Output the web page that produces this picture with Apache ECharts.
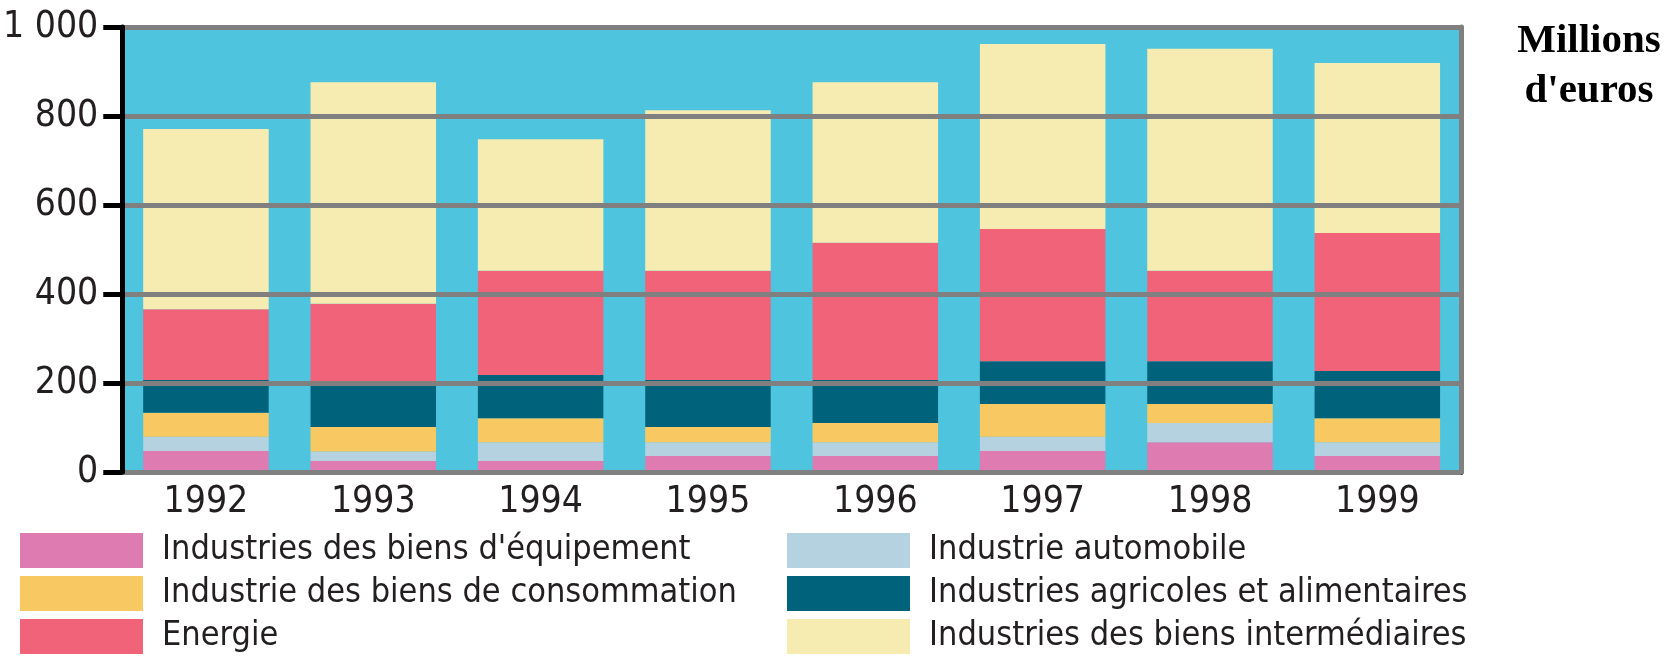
<!DOCTYPE html>
<html>
<head>
<meta charset="utf-8">
<title>Millions d'euros</title>
<script src="https://cdn.jsdelivr.net/npm/echarts@6/dist/echarts.min.js"></script>
<style>
	html, body { margin: 0; padding: 0; background: #fff; }
	#chart { width: 1677px; height: 659px; }
</style>
</head>
<body>
<div id="chart"></div>
<script>
	var years = ['1992', '1993', '1994', '1995', '1996', '1997', '1998', '1999'];
	var yTickLabels = ['0', '200', '400', '600', '800', '1 000'];

	// valeurs (millions d'euros)
	var equipement = [47, 25, 25, 36, 36, 47, 67, 36];
	var automobile = [32, 21, 42, 31, 31, 32, 43, 31];
	var consommation = [54, 55, 54, 34, 43, 74, 43, 54];
	var agricoles = [74, 95, 97, 106, 97, 96, 96, 106];
	var energie = [159, 182, 234, 245, 308, 297, 203, 310];
	var intermediaires = [405, 498, 296, 361, 361, 416, 499, 382];

	var names = [
		'Industries des biens d\'équipement',
		'Industrie automobile',
		'Industrie des biens de consommation',
		'Industries agricoles et alimentaires',
		'Energie',
		'Industries des biens intermédiaires'
	];
	var values = [equipement, automobile, consommation, agricoles, energie, intermediaires];
	var colors = ['#DE7BB1', '#B4D2DF', '#F8C862', '#01637B', '#F06378', '#F6ECB2'];

	var narrow = "'Liberation Sans Narrow', 'DejaVu Sans Condensed', 'Liberation Sans', sans-serif";
	var ink = '#231F20';

	var series = [];
	for (var i = 0; i < names.length; i++) {
		series.push({
			name: names[i],
			type: 'bar',
			stack: 'total',
			barCategoryGap: '25%',
			itemStyle: { color: colors[i] },
			data: values[i]
		});
	}

	function legendBlock(idx, left) {
		return {
			data: idx.map(function (k) { return names[k]; }),
			orient: 'vertical',
			left: left,
			top: 533,
			height: 126,
			padding: 0,
			itemWidth: 123,
			itemHeight: 35,
			itemGap: 8,
			icon: 'rect',
			selectedMode: false,
			textStyle: {
				fontFamily: narrow,
				fontSize: 34,
				lineHeight: 35,
				color: ink,
				padding: [0, 0, 0, 14]
			}
		};
	}

	var chart = echarts.init(document.getElementById('chart'));
	chart.setOption({
		animation: false,
		title: {
			text: 'Millions\nd\'euros',
			left: 1584,
			top: 11,
			textAlign: 'center',
			textStyle: {
				fontFamily: "'Liberation Serif', 'Times New Roman', serif",
				fontWeight: 'bold',
				fontSize: 41,
				lineHeight: 50,
				color: '#000'
			}
		},
		legend: [legendBlock([0, 2, 4], 20), legendBlock([1, 3, 5], 787)],
		grid: {
			left: 116,
			right: 216,
			top: 27,
			bottom: 187,
			show: true,
			backgroundColor: '#4FC4DE',
			borderWidth: 0
		},
		xAxis: {
			type: 'category',
			data: years,
			axisLine: { lineStyle: { color: '#000', width: 5 } },
			axisTick: { length: 15, lineStyle: { color: '#000', width: 4 } },
			axisLabel: {
				margin: 12,
				fontFamily: narrow,
				fontSize: 37,
				color: ink
			}
		},
		yAxis: [{
			type: 'value',
			min: 0,
			max: 1000,
			interval: 200,
			z: 5,
			axisLine: { show: true, lineStyle: { color: '#000', width: 5 } },
			axisTick: { show: true, length: 19, lineStyle: { color: '#000', width: 5 } },
			splitLine: { lineStyle: { color: '#808080', width: 5 } },
			axisLabel: {
				margin: 24,
				fontFamily: narrow,
				fontSize: 37,
				color: ink,
				formatter: function (v) { return yTickLabels[v / 200]; }
			}
		}, {
			type: 'value',
			position: 'right',
			min: 0,
			max: 1000,
			interval: 200,
			z: 5,
			axisLine: { show: true, lineStyle: { color: '#808080', width: 5 } },
			axisTick: { show: false },
			axisLabel: { show: false },
			splitLine: { show: false }
		}],
		series: series
	});
</script>
</body>
</html>
